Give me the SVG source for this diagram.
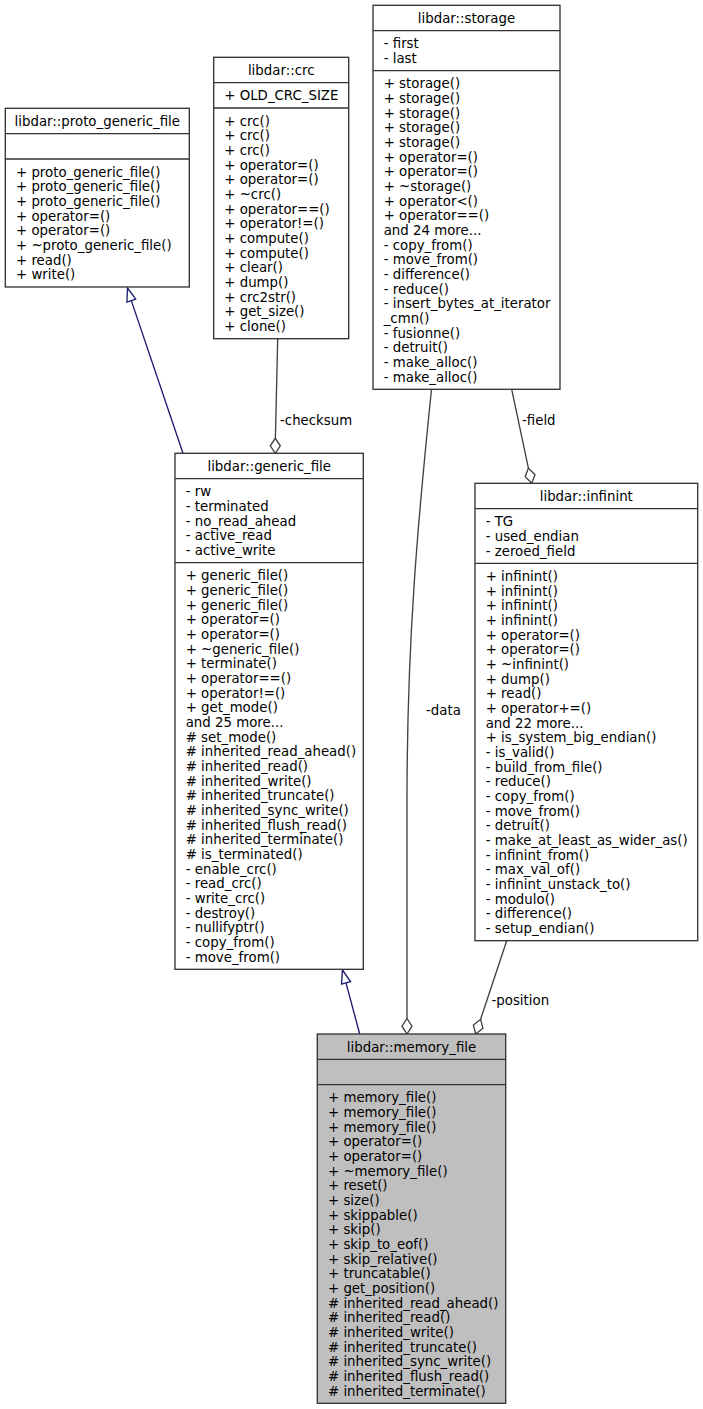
<svg xmlns="http://www.w3.org/2000/svg" width="703" height="1409" viewBox="0 0 703 1409">
<style>
text{font-family:"DejaVu Sans","Liberation Sans",sans-serif;font-size:13.33px;fill:#000}
.t{text-anchor:middle}
.box{fill:#fff;stroke:#333;stroke-width:1.33}
.cur{fill:#bfbfbf;stroke:#333;stroke-width:1.33}
.sep{stroke:#333;stroke-width:1.33;fill:none}
.inh{stroke:#191970;stroke-width:1.33;fill:none}
.inhh{stroke:#191970;stroke-width:1.33;fill:#fff}
.col{stroke:#404040;stroke-width:1.33;fill:none}
.colh{stroke:#404040;stroke-width:1.33;fill:#fff}
</style>
<rect width="703" height="1409" fill="#fff"/>
<g id="connectors">
<path class="inh" d="M183,453.3 L131.3,300.6"/>
<polygon class="inhh" points="127.5,288 135.7,299.1 126.9,302.1"/>
<path class="inh" d="M359.7,1034 L346,982.8"/>
<polygon class="inhh" points="342.5,970 350.5,981.6 341.5,984.1"/>
<path class="col" d="M277.7,338.7 L275.4,438.3"/>
<polygon class="colh" points="275.3,453.3 280.3,445.8 275.3,438.3 270.3,445.8"/>
<text x="280" y="425">-checksum</text>
<path class="col" d="M511.7,389.3 L528.4,468.1"/>
<polygon class="colh" points="531.7,483.3 535,474.7 528.4,468.1 525.2,476.7"/>
<text x="522" y="424.5">-field</text>
<path class="col" d="M431.5,389.3 C418,520 407,640 407,800 L407,1018.5"/>
<polygon class="colh" points="407,1034 412,1026.2 407,1018.5 402,1026.2"/>
<text x="426" y="714.5">-data</text>
<path class="col" d="M506.7,940.7 L480.6,1019.3"/>
<polygon class="colh" points="475.7,1034 482.9,1028.2 480.6,1019.3 473.4,1025.1"/>
<text x="491.5" y="1005">-position</text>
</g>
<g id="proto_generic_file">
<rect class="box" x="5.3" y="108.3" width="184" height="178.7"/>
<path class="sep" d="M5.3,133.6H189.3M5.3,159H189.3"/>
<text class="t" x="97.3" y="125.9">libdar::proto_generic_file</text>
<text x="16" y="176.6">+ proto_generic_file()</text>
<text x="16" y="191.3">+ proto_generic_file()</text>
<text x="16" y="205.9">+ proto_generic_file()</text>
<text x="16" y="220.6">+ operator=()</text>
<text x="16" y="235.3">+ operator=()</text>
<text x="16" y="249.9">+ ~proto_generic_file()</text>
<text x="16" y="264.6">+ read()</text>
<text x="16" y="279.3">+ write()</text>
</g>
<g id="crc">
<rect class="box" x="213.7" y="57.3" width="135" height="281.4"/>
<path class="sep" d="M213.7,82.7H348.7M213.7,108H348.7"/>
<text class="t" x="281.2" y="74.9">libdar::crc</text>
<text x="224.3" y="100.3">+ OLD_CRC_SIZE</text>
<text x="224.3" y="125.6">+ crc()</text>
<text x="224.3" y="140.3">+ crc()</text>
<text x="224.3" y="154.9">+ crc()</text>
<text x="224.3" y="169.6">+ operator=()</text>
<text x="224.3" y="184.3">+ operator=()</text>
<text x="224.3" y="198.9">+ ~crc()</text>
<text x="224.3" y="213.6">+ operator==()</text>
<text x="224.3" y="228.3">+ operator!=()</text>
<text x="224.3" y="242.9">+ compute()</text>
<text x="224.3" y="257.6">+ compute()</text>
<text x="224.3" y="272.3">+ clear()</text>
<text x="224.3" y="286.9">+ dump()</text>
<text x="224.3" y="301.6">+ crc2str()</text>
<text x="224.3" y="316.3">+ get_size()</text>
<text x="224.3" y="330.9">+ clone()</text>
</g>
<g id="storage">
<rect class="box" x="373" y="5.3" width="187" height="384"/>
<path class="sep" d="M373,30.7H560M373,70.7H560"/>
<text class="t" x="466.5" y="22.9">libdar::storage</text>
<text x="383.7" y="48.3">- first</text>
<text x="383.7" y="63">- last</text>
<text x="383.7" y="88.3">+ storage()</text>
<text x="383.7" y="103">+ storage()</text>
<text x="383.7" y="117.6">+ storage()</text>
<text x="383.7" y="132.3">+ storage()</text>
<text x="383.7" y="147">+ storage()</text>
<text x="383.7" y="161.6">+ operator=()</text>
<text x="383.7" y="176.3">+ operator=()</text>
<text x="383.7" y="191">+ ~storage()</text>
<text x="383.7" y="205.6">+ operator&lt;()</text>
<text x="383.7" y="220.3">+ operator==()</text>
<text x="383.7" y="235">and 24 more...</text>
<text x="383.7" y="249.6">- copy_from()</text>
<text x="383.7" y="264.3">- move_from()</text>
<text x="383.7" y="279">- difference()</text>
<text x="383.7" y="293.6">- reduce()</text>
<text x="383.7" y="308.3">- insert_bytes_at_iterator</text>
<text x="383.7" y="323">_cmn()</text>
<text x="383.7" y="337.6">- fusionne()</text>
<text x="383.7" y="352.3">- detruit()</text>
<text x="383.7" y="367">- make_alloc()</text>
<text x="383.7" y="381.6">- make_alloc()</text>
</g>
<g id="generic_file">
<rect class="box" x="175" y="453.3" width="188.3" height="516"/>
<path class="sep" d="M175,478.7H363.3M175,562.7H363.3"/>
<text class="t" x="269.2" y="470.9">libdar::generic_file</text>
<text x="185.7" y="496.3">- rw</text>
<text x="185.7" y="511">- terminated</text>
<text x="185.7" y="525.6">- no_read_ahead</text>
<text x="185.7" y="540.3">- active_read</text>
<text x="185.7" y="555">- active_write</text>
<text x="185.7" y="580.3">+ generic_file()</text>
<text x="185.7" y="595">+ generic_file()</text>
<text x="185.7" y="609.6">+ generic_file()</text>
<text x="185.7" y="624.3">+ operator=()</text>
<text x="185.7" y="639">+ operator=()</text>
<text x="185.7" y="653.6">+ ~generic_file()</text>
<text x="185.7" y="668.3">+ terminate()</text>
<text x="185.7" y="683">+ operator==()</text>
<text x="185.7" y="697.6">+ operator!=()</text>
<text x="185.7" y="712.3">+ get_mode()</text>
<text x="185.7" y="727">and 25 more...</text>
<text x="185.7" y="741.6"># set_mode()</text>
<text x="185.7" y="756.3"># inherited_read_ahead()</text>
<text x="185.7" y="771"># inherited_read()</text>
<text x="185.7" y="785.6"># inherited_write()</text>
<text x="185.7" y="800.3"># inherited_truncate()</text>
<text x="185.7" y="815"># inherited_sync_write()</text>
<text x="185.7" y="829.6"># inherited_flush_read()</text>
<text x="185.7" y="844.3"># inherited_terminate()</text>
<text x="185.7" y="859"># is_terminated()</text>
<text x="185.7" y="873.6">- enable_crc()</text>
<text x="185.7" y="888.3">- read_crc()</text>
<text x="185.7" y="903">- write_crc()</text>
<text x="185.7" y="917.6">- destroy()</text>
<text x="185.7" y="932.3">- nullifyptr()</text>
<text x="185.7" y="947">- copy_from()</text>
<text x="185.7" y="961.6">- move_from()</text>
</g>
<g id="infinint">
<rect class="box" x="475" y="483.3" width="222.7" height="457.4"/>
<path class="sep" d="M475,508.7H697.7M475,563.3H697.7"/>
<text class="t" x="586.3" y="500.9">libdar::infinint</text>
<text x="485.7" y="526.3">- TG</text>
<text x="485.7" y="541">- used_endian</text>
<text x="485.7" y="555.6">- zeroed_field</text>
<text x="485.7" y="580.9">+ infinint()</text>
<text x="485.7" y="595.6">+ infinint()</text>
<text x="485.7" y="610.2">+ infinint()</text>
<text x="485.7" y="624.9">+ infinint()</text>
<text x="485.7" y="639.6">+ operator=()</text>
<text x="485.7" y="654.2">+ operator=()</text>
<text x="485.7" y="668.9">+ ~infinint()</text>
<text x="485.7" y="683.6">+ dump()</text>
<text x="485.7" y="698.2">+ read()</text>
<text x="485.7" y="712.9">+ operator+=()</text>
<text x="485.7" y="727.6">and 22 more...</text>
<text x="485.7" y="742.2">+ is_system_big_endian()</text>
<text x="485.7" y="756.9">- is_valid()</text>
<text x="485.7" y="771.6">- build_from_file()</text>
<text x="485.7" y="786.2">- reduce()</text>
<text x="485.7" y="800.9">- copy_from()</text>
<text x="485.7" y="815.6">- move_from()</text>
<text x="485.7" y="830.2">- detruit()</text>
<text x="485.7" y="844.9">- make_at_least_as_wider_as()</text>
<text x="485.7" y="859.6">- infinint_from()</text>
<text x="485.7" y="874.2">- max_val_of()</text>
<text x="485.7" y="888.9">- infinint_unstack_to()</text>
<text x="485.7" y="903.6">- modulo()</text>
<text x="485.7" y="918.2">- difference()</text>
<text x="485.7" y="932.9">- setup_endian()</text>
</g>
<g id="memory_file">
<rect class="cur" x="317.3" y="1034" width="188.4" height="369.3"/>
<path class="sep" d="M317.3,1059.3H505.7M317.3,1084.7H505.7"/>
<text class="t" x="411.5" y="1051.6">libdar::memory_file</text>
<text x="328" y="1102.3">+ memory_file()</text>
<text x="328" y="1117">+ memory_file()</text>
<text x="328" y="1131.6">+ memory_file()</text>
<text x="328" y="1146.3">+ operator=()</text>
<text x="328" y="1161">+ operator=()</text>
<text x="328" y="1175.6">+ ~memory_file()</text>
<text x="328" y="1190.3">+ reset()</text>
<text x="328" y="1205">+ size()</text>
<text x="328" y="1219.6">+ skippable()</text>
<text x="328" y="1234.3">+ skip()</text>
<text x="328" y="1249">+ skip_to_eof()</text>
<text x="328" y="1263.6">+ skip_relative()</text>
<text x="328" y="1278.3">+ truncatable()</text>
<text x="328" y="1293">+ get_position()</text>
<text x="328" y="1307.6"># inherited_read_ahead()</text>
<text x="328" y="1322.3"># inherited_read()</text>
<text x="328" y="1337"># inherited_write()</text>
<text x="328" y="1351.6"># inherited_truncate()</text>
<text x="328" y="1366.3"># inherited_sync_write()</text>
<text x="328" y="1381"># inherited_flush_read()</text>
<text x="328" y="1395.6"># inherited_terminate()</text>
</g>
</svg>
